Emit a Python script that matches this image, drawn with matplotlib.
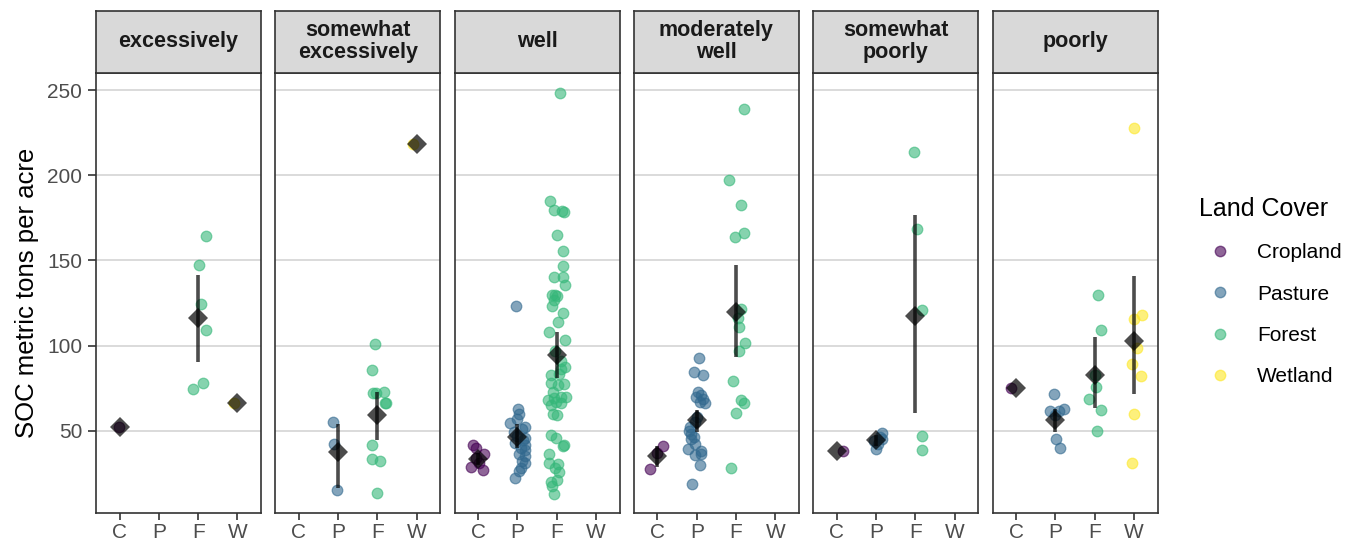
import numpy as np
import matplotlib
matplotlib.use("Agg")
import matplotlib.pyplot as plt
from matplotlib.lines import Line2D

plt.rcParams['font.family'] = ['Liberation Sans', 'DejaVu Sans']

# facets and land cover classes
panels = ["excessively", "somewhat\nexcessively", "well", "moderately\nwell",
          "somewhat\npoorly", "poorly"]
covers = ["C", "P", "F", "W"]
cover_names = ["Cropland", "Pasture", "Forest", "Wetland"]
cover_cols = ["#440154", "#31688E", "#35B779", "#FDE725"]

# points (value, horizontal jitter in category units)
exc_C = [52.4];                 exc_C_dx = [-0.02]
exc_F = [164.5, 147.1, 124.2, 109.3, 78.2, 74.5]
exc_F_dx = [0.19, 0.03, 0.07, 0.20, 0.12, -0.13]
exc_W = [66.4];                 exc_W_dx = [-0.1]

sexc_P = [55.1, 42.4, 15.2];    sexc_P_dx = [-0.13, -0.11, -0.02]
sexc_F = [100.7, 85.6, 72.0, 72.0, 73.0, 66.0, 66.5, 41.8, 33.6, 32.0, 13.2]
sexc_F_dx = [-0.05, -0.13, -0.11, -0.03, 0.17, 0.19, 0.23, -0.15, -0.14, 0.06, -0.01]
sexc_W = [218.1];               sexc_W_dx = [-0.1]

well_C = [41.5, 40, 36.5, 34, 31, 29, 27]
well_C_dx = [-0.12, -0.06, 0.15, -0.05, 0.02, -0.17, 0.13]
well_P = [123, 62.5, 60, 57, 54.5, 52, 51, 49, 47, 46, 44.5, 43, 41.5, 40, 38.5,
          36.5, 35, 32.5, 31, 28, 26.5, 22]
well_P_dx = [-0.03, 0.02, 0.05, 0.0, -0.2, 0.2, 0.12, -0.1, 0.0, 0.18, 0.15, -0.05,
             0.2, 0.1, 0.18, 0.05, 0.2, 0.12, 0.18, 0.1, 0.05, -0.07]
well_F = [248.5, 185, 179.5, 179, 178.5, 165, 155.5, 147, 140.5, 140, 135.5, 129.5,
          129.5, 129, 126.5, 123.5, 119, 114, 108, 103, 97, 91, 87.5, 86.5, 83.5,
          82.5, 78, 77, 77.5, 73, 70, 70, 69, 68, 67, 66, 65, 60, 59, 47.5, 45.5,
          41.5, 41, 36.5, 31, 30.5, 28, 25.5, 21, 20, 17.5, 13]
well_F_dx = [0.08, -0.18, -0.07, 0.14, 0.18, 0.0, 0.15, 0.17, -0.07, 0.16, 0.2, -0.12,
             -0.05, 0.0, -0.08, -0.12, 0.15, 0.02, -0.2, 0.2, -0.05, 0.1, 0.2, 0.1, 0.06,
             -0.15, -0.15, 0.02, 0.19, -0.1, 0.1, 0.23, -0.07, -0.23, -0.02, 0.12, -0.15,
             -0.1, 0.0, -0.15, -0.03, 0.19, 0.15, -0.2, -0.2, 0.02, -0.05, 0.05, 0.0,
             -0.15, -0.12, -0.07]

mw_C = [41, 37, 27.5];          mw_C_dx = [0.13, 0.0, -0.2]
mw_P = [92.5, 84.5, 82.5, 72.5, 71, 70, 68.5, 67, 66.5, 58, 55, 52, 50, 48, 46.5,
        45, 42, 39.5, 38, 36.5, 35.5, 30, 19]
mw_P_dx = [0.05, -0.07, 0.16, 0.03, 0.12, -0.02, 0.17, 0.08, 0.2, 0.0, -0.05, -0.18,
           -0.2, -0.15, -0.08, -0.15, -0.05, -0.22, 0.1, 0.12, -0.05, 0.08, -0.13]
mw_F = [238.7, 197.2, 182.5, 165.9, 163.9, 121.3, 116, 111.1, 101.7, 97, 79.4, 68,
        66.4, 60.6, 27.9]
mw_F_dx = [0.21, -0.19, 0.13, 0.2, -0.03, 0.13, 0.06, 0.08, 0.23, 0.08, -0.08, 0.13,
           0.19, 0.0, -0.14]

sp_C = [38.1];                  sp_C_dx = [0.16]
sp_P = [48.5, 46.5, 45, 44, 42.5, 39]
sp_P_dx = [0.16, 0.1, 0.14, -0.06, 0.05, 0.0]
sp_F = [213.6, 168.6, 120.6, 47.1, 38.8]
sp_F_dx = [-0.04, 0.05, 0.18, 0.18, 0.18]

p_C = [74.9];                   p_C_dx = [-0.13]
p_P = [71.5, 62.7, 61.3, 61.3, 59, 45, 40]
p_P_dx = [-0.04, 0.22, -0.13, 0.1, 0.0, 0.01, 0.12]
p_F = [129.8, 108.9, 82.7, 75.6, 68.8, 62.3, 49.6]
p_F_dx = [0.09, 0.15, 0.0, 0.03, -0.15, 0.15, 0.05]
p_W = [227.5, 117.9, 115.8, 98.5, 88.9, 82.3, 59.8, 31.2]
p_W_dx = [0.0, 0.2, 0.0, 0.09, -0.05, 0.18, 0.0, -0.05]

groups = {
    (0, "C"): (exc_C, exc_C_dx), (0, "F"): (exc_F, exc_F_dx), (0, "W"): (exc_W, exc_W_dx),
    (1, "P"): (sexc_P, sexc_P_dx), (1, "F"): (sexc_F, sexc_F_dx), (1, "W"): (sexc_W, sexc_W_dx),
    (2, "C"): (well_C, well_C_dx), (2, "P"): (well_P, well_P_dx), (2, "F"): (well_F, well_F_dx),
    (3, "C"): (mw_C, mw_C_dx), (3, "P"): (mw_P, mw_P_dx), (3, "F"): (mw_F, mw_F_dx),
    (4, "C"): (sp_C, sp_C_dx), (4, "P"): (sp_P, sp_P_dx), (4, "F"): (sp_F, sp_F_dx),
    (5, "C"): (p_C, p_C_dx), (5, "P"): (p_P, p_P_dx), (5, "F"): (p_F, p_F_dx),
    (5, "W"): (p_W, p_W_dx),
}

# mean and interval
nan = np.nan
sum_panel = [0, 0, 0, 1, 1, 1, 2, 2, 2, 3, 3, 3, 4, 4, 4, 5, 5, 5, 5]
sum_cover = ["C", "F", "W", "P", "F", "W", "C", "P", "F", "C", "P", "F",
             "C", "P", "F", "C", "P", "F", "W"]
sum_mean = [52.4, 116.3, 66.4, 37.3, 59.2, 218.1, 33.5, 46.4, 94.4, 35, 56.3, 120,
            38.1, 44.3, 117.5, 74.9, 56.5, 82.7, 102.6]
sum_lo = [nan, 90.3, nan, 16.3, 44.3, nan, 30, 40, 80.8, 29, 49, 93.5,
          nan, 41, 60.2, nan, 49, 63.3, 71.5]
sum_hi = [nan, 141.4, nan, 54.1, 72.9, nan, 37, 54, 108.1, 41, 62, 147.5,
          nan, 47.5, 176.4, nan, 63, 104.8, 140.6]

W, H = 1359, 544
fig = plt.figure(figsize=(W / 100, H / 100), dpi=100)

edge = "#333333"
for i, name in enumerate(panels):
    left = 96 + i * 179.3
    ax = fig.add_axes([left / W, 31 / H, 165 / W, 440.3 / H])
    st = fig.add_axes([left / W, 471.3 / H, 165 / W, 61.7 / H])

    for (pi, cv), (vals, dx) in groups.items():
        if pi != i:
            continue
        k = covers.index(cv)
        xs = k + 1 + np.array(dx)
        ax.scatter(xs, vals, s=58, color=cover_cols[k], alpha=0.6,
                   edgecolors=cover_cols[k], linewidths=0.9, zorder=3)

    for pi, cv, m, lo, hi in zip(sum_panel, sum_cover, sum_mean, sum_lo, sum_hi):
        if pi != i:
            continue
        x = covers.index(cv) + 1
        if not np.isnan(lo):
            ax.vlines(x, lo, hi, color="black", alpha=0.7, lw=2.6, zorder=4)
        ax.plot([x], [m], marker="D", ms=10, color="black", alpha=0.7,
                ls="", mew=0, zorder=5)

    ax.set_xlim(0.4, 4.6)
    ax.set_ylim(1.7, 260.2)
    ax.set_xticks(range(1, 5))
    ax.set_xticklabels(covers)
    ax.set_yticks([50, 100, 150, 200, 250])
    ax.yaxis.grid(True, color="#d4d4d4", lw=1.2)
    ax.set_axisbelow(True)
    for s in ax.spines.values():
        s.set_color(edge)
        s.set_linewidth(1.2)
    ax.tick_params(axis="x", length=5, width=1.2, color=edge, pad=2,
                   labelsize=15, labelcolor="#4d4d4d")
    if i == 0:
        ax.tick_params(axis="y", length=5.5, width=1.2, color=edge, pad=4.5,
                       labelsize=15, labelcolor="#4d4d4d")
    else:
        ax.tick_params(axis="y", left=False, labelleft=False)

    st.set_facecolor("#d9d9d9")
    st.set_xticks([])
    st.set_yticks([])
    for s in st.spines.values():
        s.set_color(edge)
        s.set_linewidth(1.2)
    st.text(0.5, 0.5, name, ha="center", va="center", fontsize=15.5,
            fontweight="bold", color="#1a1a1a", linespacing=1.05,
            transform=st.transAxes)

fig.text(27 / W, (544 - 293) / H, "SOC metric tons per acre", rotation=90,
         ha="center", va="center", fontsize=18.5)

handles = [Line2D([], [], marker="o", ls="", ms=7.5, color=c, alpha=0.6,
                  markeredgecolor=c) for c in cover_cols]
fig.legend(handles, cover_names, title="Land Cover", loc="upper left",
           bbox_to_anchor=(1199 / W, (544 - 197) / H), frameon=False,
           alignment="left", fontsize=15, title_fontsize=18,
           handletextpad=0.8, labelspacing=1.07, borderpad=0, borderaxespad=0)

fig.savefig("out.png", dpi=100)
